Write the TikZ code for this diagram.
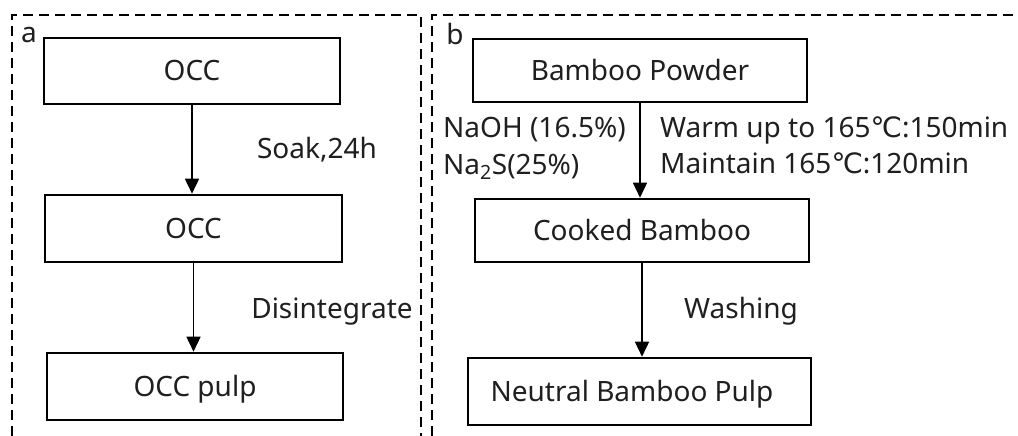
\documentclass[tikz,border=0pt]{standalone}
\usepackage{fontspec}
\setmainfont{Noto Sans}
\newfontfamily\dejavu{DejaVu Sans}
\usetikzlibrary{arrows.meta}
\newcommand{\degC}{{\dejavu ℃}}
\begin{document}
\begin{tikzpicture}[x=1pt,y=-1pt,
  txt/.style={font=\fontsize{28}{33}\selectfont, text=black!88, inner sep=0pt},
  box/.style={draw, line width=2.6pt, txt, text height=20pt, text depth=0pt},
  arr/.style={-{Triangle[length=15pt,width=14pt]}, line width=1.6pt},
  panel/.style={dash pattern=on 10pt off 6pt, line width=2.8pt}]
\useasboundingbox (0,0) rectangle (1018,436);
% panels
\draw[panel] (12,436) -- (12,15) -- (421,15) -- (421,436);
\draw[panel] (432,436) -- (432,15) -- (1018,15);
\node[txt, anchor=base] (la) at (29,43) {a};
\node[txt, anchor=base] (lb) at (455,45) {b};
% panel a
\node[box, minimum width=296pt, minimum height=66pt] (o1) at (192,71) {OCC};
\node[box, minimum width=297pt, minimum height=67pt] (o2) at (193.5,228.5) {OCC};
\node[box, minimum width=296pt, minimum height=67pt] (o3) at (195,386.5) {OCC pulp};
\draw[arr] (o1.south) -- (o1.south |- o2.north);
\draw[arr] (o2.south) -- (o2.south |- o3.north);
\node[txt, anchor=base] (soak) at (317,158) {Soak,24h};
\node[txt, anchor=base] (dis) at (332,318) {Disintegrate};
% panel b
\node[box, minimum width=334pt, minimum height=63pt] (b1) at (640,70.5) {Bamboo Powder};
\node[box, minimum width=334pt, minimum height=63pt] (b2) at (642,230.5) {Cooked Bamboo};
\node[box, minimum width=343pt, minimum height=67pt] (b3) at (639.5,391.5) {Neutral Bamboo Pulp\hspace*{15pt}};
\draw[arr] (b1.south) -- (b1.south |- b2.north);
\draw[arr] (b2.south) -- (b2.south |- b3.north);
\node[txt, anchor=base west] (naoh) at (443,137) {NaOH (16.5\%)};
\node[txt, anchor=base west] (nas) at (443,174) {Na\textsubscript{2}S(25\%)};
\node[txt, anchor=base west] (warm) at (660,137) {Warm up to 165\degC:150min};
\node[txt, anchor=base west] (main) at (660,173) {Maintain 165\degC:120min};
\node[txt, anchor=base] (wash) at (741,318) {Washing};
\end{tikzpicture}
\end{document}
